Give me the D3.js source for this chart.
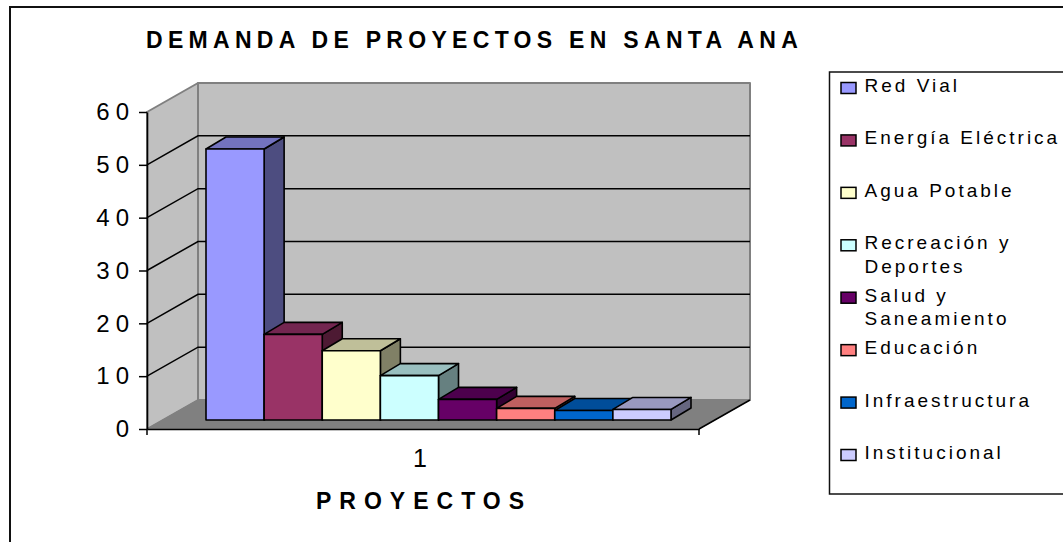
<!DOCTYPE html>
<html>
<head>
<meta charset="utf-8">
<script src="https://cdn.jsdelivr.net/npm/d3@7"></script>
<style>
  html, body { margin: 0; padding: 0; background: #fff; overflow: hidden; }
  text { font-family: "Liberation Sans", Arial, sans-serif; fill: #000; }
</style>
</head>
<body>
<script>
var categories = ["Red Vial", "Energía Eléctrica", "Agua Potable", "Recreación y Deportes",
  "Salud y Saneamiento", "Educación", "Infraestructura", "Institucional"];
var values = [51.3, 16.2, 13.1, 8.4, 3.9, 2.2, 1.8, 2.0];
var frontColors = ["#9999ff", "#993366", "#ffffcc", "#ccffff", "#660066", "#ff8080", "#0066cc", "#ccccff"];
var topColors = ["#7373bf", "#732650", "#bfbf99", "#99bfbf", "#4d004d", "#bf6060", "#004d99", "#9999bf"];
var sideColors = ["#4d4d80", "#4d1a33", "#808066", "#668080", "#330033", "#804040", "#003366", "#666680"];
var yTicks = [0, 10, 20, 30, 40, 50, 60];
var xLabels = ["1"];

var width = 1063, height = 542;
// depth of the box, and where the bars sit inside it
var depthX = 51, depthY = -29;
var barOffX = 16, barOffY = -9, barDepthX = 20, barDepthY = -12;

var svg = d3.select("body").append("svg")
  .attr("width", width).attr("height", height)
  .style("display", "block");

var y = d3.scaleLinear().domain([0, 60]).range([429, 112]);
var xOuter = d3.scaleBand().domain(xLabels).range([147, 699]);
var x = d3.scaleBand().domain(categories).range([190, 655]);

// outer frame
svg.append("rect")
  .attr("x", 10).attr("y", 7)
  .attr("width", 1070).attr("height", 560)
  .attr("fill", "#fff").attr("stroke", "#111").attr("stroke-width", 2);

function poly(pts, fill, stroke, sw) {
  return svg.append("polygon")
    .attr("points", pts.map(function(p){ return p.join(","); }).join(" "))
    .attr("fill", fill)
    .attr("stroke", stroke || "none")
    .attr("stroke-width", sw || 1)
    .attr("stroke-linejoin", "round");
}

var x0 = xOuter.range()[0], x1 = xOuter.range()[1];
var yB = y(0), yT = y(60);

// walls and floor
poly([[x0, yB], [x0, yT], [x0 + depthX, yT + depthY], [x0 + depthX, yB + depthY]], "#c0c0c0", "#808080", 2);
poly([[x0 + depthX, yT + depthY], [x1 + depthX, yT + depthY], [x1 + depthX, yB + depthY], [x0 + depthX, yB + depthY]], "#c0c0c0", "#808080", 2);
poly([[x0, yB], [x0 + depthX, yB + depthY], [x1 + depthX, yB + depthY], [x1, yB]], "#808080", "#808080", 1);

// gridlines on the walls
var grid = svg.append("g").attr("fill", "none").attr("stroke", "#000").attr("stroke-width", 1.5);
yTicks.filter(function(t){ return t > 0 && t < 60; }).forEach(function(t) {
  grid.append("polyline")
    .attr("points", [[x0, y(t)], [x0 + depthX, y(t) + depthY], [x1 + depthX, y(t) + depthY]].join(" "));
});
grid.append("line").attr("x1", x1).attr("y1", yB).attr("x2", x1 + depthX).attr("y2", yB + depthY);

// bars
var bars = svg.append("g").selectAll("g").data(categories).enter().append("g")
  .attr("stroke", "#000").attr("stroke-width", 1.6).attr("stroke-linejoin", "round");

bars.each(function(d, i) {
  var g = d3.select(this);
  var l = x(d) + barOffX, r = l + x.bandwidth();
  var b = yB + barOffY, t = y(values[i]) + barOffY;
  var dx = barDepthX, dy = barDepthY;
  g.append("polygon").attr("fill", sideColors[i])
    .attr("points", [[r, b], [r, t], [r + dx, t + dy], [r + dx, b + dy]].join(" "));
  g.append("polygon").attr("fill", topColors[i])
    .attr("points", [[l, t], [l + dx, t + dy], [r + dx, t + dy], [r, t]].join(" "));
  g.append("rect").attr("fill", frontColors[i])
    .attr("x", l).attr("y", t).attr("width", r - l).attr("height", b - t);
});

// axes
var yAxis = svg.append("g").attr("transform", "translate(" + x0 + ",0)")
  .call(d3.axisLeft(y).tickValues(yTicks).tickSize(8).tickSizeOuter(0).tickPadding(4));
var xAxis = svg.append("g").attr("transform", "translate(0," + yB + ")")
  .call(d3.axisBottom(xOuter).tickSize(0).tickPadding(20));
svg.selectAll(".domain").attr("stroke", "#000").attr("stroke-width", 1.6);
svg.selectAll(".tick line").attr("stroke", "#000").attr("stroke-width", 1.5);
yAxis.selectAll("text").style("font-size", "24px").style("letter-spacing", "6px");
xAxis.selectAll("text").style("font-size", "25px").attr("dx", "-3");
[x0, x1].forEach(function(px) {
  svg.append("line").attr("x1", px).attr("x2", px).attr("y1", yB).attr("y2", yB + 6)
    .attr("stroke", "#000").attr("stroke-width", 1.5);
});

// titles
svg.append("text").attr("x", 146).attr("y", 48)
  .style("font-size", "23px").style("font-weight", "bold").style("letter-spacing", "5.3px")
  .text("DEMANDA DE PROYECTOS EN SANTA ANA");
svg.append("text").attr("x", 316).attr("y", 509)
  .style("font-size", "23px").style("font-weight", "bold").style("letter-spacing", "8px")
  .text("PROYECTOS");

// legend
svg.append("rect").attr("x", 829.5).attr("y", 72)
  .attr("width", 300).attr("height", 422)
  .attr("fill", "#fff").attr("stroke", "#111").attr("stroke-width", 1.5);

var legendLines = [["Red Vial"], ["Energía Eléctrica"], ["Agua Potable"], ["Recreación y", "Deportes"],
  ["Salud y", "Saneamiento"], ["Educación"], ["Infraestructura"], ["Institucional"]];
var legendY = d3.scalePoint().domain(categories).range([88, 455]);

var items = svg.append("g").selectAll("g").data(categories).enter().append("g");
items.append("rect")
  .attr("x", 841).attr("width", 15).attr("height", 11)
  .attr("y", function(d){ return legendY(d) - 5.5; })
  .attr("fill", function(d, i){ return frontColors[i]; })
  .attr("stroke", "#000").attr("stroke-width", 1.5);
items.each(function(d, i) {
  var g = d3.select(this);
  legendLines[i].forEach(function(line, k) {
    g.append("text").attr("x", 864.5).attr("y", legendY(d) + 4 + k * 23.5)
      .style("font-size", "19px").style("letter-spacing", "3px")
      .text(line);
  });
});
</script>
</body>
</html>
